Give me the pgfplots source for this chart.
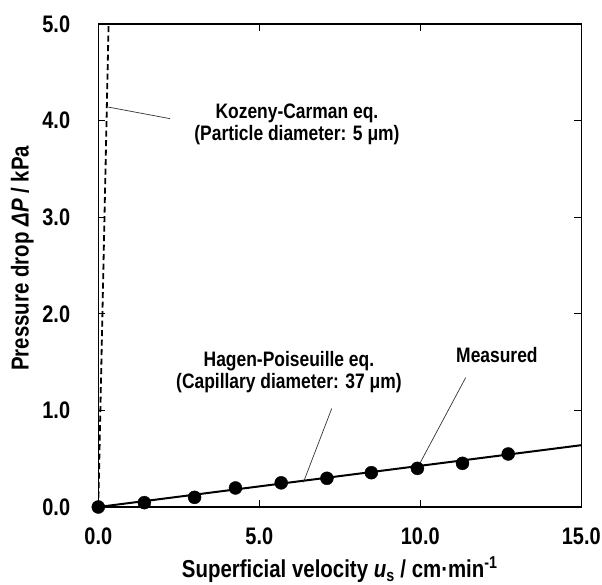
\documentclass[border=0pt]{standalone}
\usepackage{graphicx}
\usepackage{pgfplots}
\pgfplotsset{compat=1.18}
\usepackage{fontspec}
\setmainfont{Liberation Sans}
\newcommand{\vs}[1]{\scalebox{1}[1.2]{#1}}
\begin{document}
\begin{tikzpicture}
\begin{axis}[
  at={(0,0)}, anchor=south west,
  scale only axis, width=483bp, height=483bp,
  xmin=0, xmax=15, ymin=0, ymax=5,
  xtick={0,5,10,15}, ytick={0,1,2,3,4,5},
  tick align=inside, major tick length=7bp,
  every tick/.style={black, line width=1.3bp},
  axis line style={line width=1.5bp},
  /pgf/number format/assume math mode=true,
  /pgf/number format/.cd, fixed, fixed zerofill, precision=1, /pgfplots/.cd,
  xticklabel={\vs{\pgfmathprintnumber{\tick}}},
  yticklabel={\vs{\pgfmathprintnumber{\tick}}},
  tick label style={font=\bfseries\fontsize{20}{24}\selectfont},
  xticklabel style={anchor=north, inner sep=0pt, yshift=-21bp},
  yticklabel style={anchor=east, inner sep=0pt, xshift=-28bp},
  xlabel={\vs{Superficial velocity {\itshape u}\textsubscript{s} / cm·min\textsuperscript{-1}}},
  ylabel={\vs{Pressure drop {\itshape ΔP} / kPa}},
  xlabel style={font=\bfseries\fontsize{20.5}{24}\selectfont, at={(axis description cs:0.5,0)}, anchor=center, yshift=-63bp},
  ylabel style={font=\bfseries\fontsize{20.5}{24}\selectfont, at={([xshift=-76bp]axis description cs:0,0.515)}, anchor=center},
  clip=true,
]
% Kozeny-Carman (dashed)
\addplot[black, line width=1.8bp, dash pattern=on 6bp off 3.5bp] coordinates {(0,0) (0.32,5.0)};
% Hagen-Poiseuille line
\addplot[black, line width=2bp] coordinates {(0,0) (15,0.64)};
% Measured
\addplot[only marks, mark=*, mark size=6.5bp, black, mark options={fill=black}] coordinates {
(0,0) (1.43,0.045) (2.99,0.10) (4.26,0.197) (5.68,0.25) (7.10,0.297) (8.48,0.355) (9.91,0.40) (11.31,0.452) (12.73,0.549)};
% leader lines
\addplot[black!80, line width=0.7bp] coordinates {(0.31,4.14) (2.23,4.02)};
\addplot[black!80, line width=0.7bp] coordinates {(7.25,1.02) (6.37,0.256)};
\addplot[black!80, line width=0.7bp] coordinates {(11.41,1.34) (10.0,0.46)};
% annotation text
\node[font=\bfseries\fontsize{17.5}{18.5}\selectfont, inner sep=0pt] at (axis cs:6.17,3.95) {\vs{\begin{tabular}{@{}c@{}}Kozeny-Carman eq.\\(Particle diameter: 5 μm)\end{tabular}}};
\node[font=\bfseries\fontsize{17.5}{18.5}\selectfont, inner sep=0pt] at (axis cs:5.92,1.39) {\vs{\begin{tabular}{@{}c@{}}Hagen-Poiseuille eq.\\(Capillary diameter: 37 μm)\end{tabular}}};
\node[font=\bfseries\fontsize{17.5}{18.5}\selectfont, inner sep=0pt] at (axis cs:12.38,1.57) {\vs{Measured}};
\end{axis}
\pgfresetboundingbox
\path (-98.3bp,-78bp) rectangle (503.7bp,507bp);
\end{tikzpicture}
\end{document}
